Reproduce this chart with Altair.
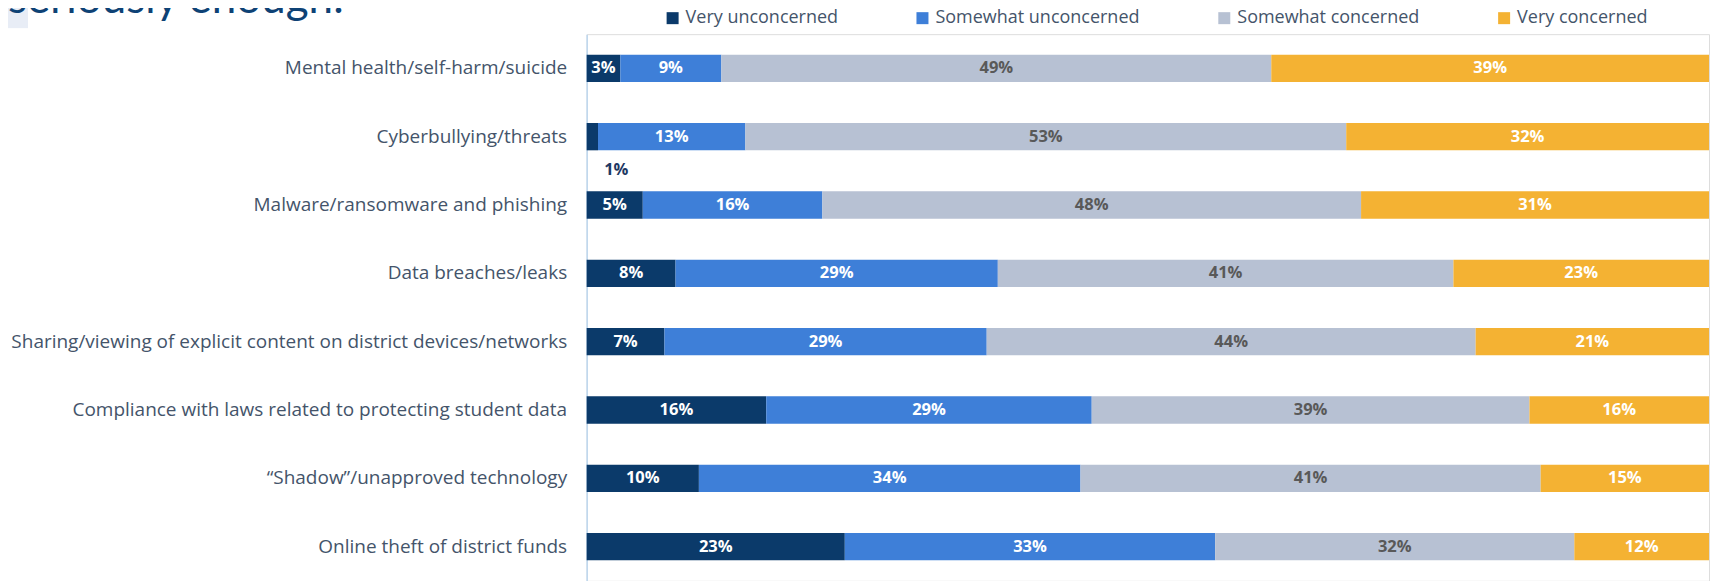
import altair as alt
import pandas as pd

categories = [
    "Mental health/self-harm/suicide",
    "Cyberbullying/threats",
    "Malware/ransomware and phishing",
    "Data breaches/leaks",
    "Sharing/viewing of explicit content on district devices/networks",
    "Compliance with laws related to protecting student data",
    "\u201cShadow\u201d/unapproved technology",
    "Online theft of district funds",
]
responses = ["Very unconcerned", "Somewhat unconcerned", "Somewhat concerned", "Very concerned"]
very_unconcerned = [3, 1, 5, 8, 7, 16, 10, 23]
somewhat_unconcerned = [9, 13, 16, 29, 29, 29, 34, 33]
somewhat_concerned = [49, 53, 48, 41, 44, 39, 41, 32]
very_concerned = [39, 32, 31, 23, 21, 16, 15, 12]
colors = ["#0B3A6A", "#3E7FD8", "#B7C1D3", "#F4B233"]
title_text = "seriously enough:"

series = [very_unconcerned, somewhat_unconcerned, somewhat_concerned, very_concerned]
rows = []
for ci, cat in enumerate(categories):
    for ri, resp in enumerate(responses):
        v = series[ri][ci]
        rows.append({"item": cat, "response": resp, "order": ri, "value": v,
                     "label": f"{v}%", "small": v < 2})
df = pd.DataFrame(rows)

FONT = "Open Sans"

base = alt.Chart(df).transform_stack(
    stack="value", groupby=["item"], sort=[alt.SortField("order")],
    as_=["x0", "x1"], offset="normalize"
).transform_calculate(mid="(datum.x0 + datum.x1) / 2")

yenc = alt.Y("item:N", sort=categories,
             scale=alt.Scale(paddingInner=0.6, paddingOuter=0.3),
             axis=alt.Axis(title=None, ticks=False, labelFontSize=19, labelFont=FONT,
                           labelColor="#44546A", labelPadding=20, domainColor="#BDD7EE",
                           domainWidth=1.5, labelLimit=800))
xscale = alt.Scale(domain=[0, 1])

bars = base.mark_bar().encode(
    y=yenc,
    x=alt.X("x0:Q", scale=xscale, axis=None),
    x2="x1:Q",
    color=alt.Color("response:N", sort=responses,
                    scale=alt.Scale(domain=responses, range=colors),
                    legend=alt.Legend(title=None, orient="none", legendX=77, legendY=-25,
                                      direction="horizontal", symbolType="square",
                                      symbolSize=144, symbolStrokeWidth=0,
                                      labelFontSize=18, labelFont=FONT, labelColor="#44546A",
                                      labelLimit=400, columnPadding=75, symbolOffset=0,
                                      labelOffset=4, padding=0)),
)

labels = base.transform_filter("!datum.small").mark_text(
    font=FONT, fontWeight="bold", fontSize=16.5
).encode(
    y=alt.Y("item:N", sort=categories),
    x=alt.X("mid:Q", scale=xscale),
    text="label:N",
    color=alt.condition(alt.datum.response == "Somewhat concerned",
                        alt.value("#595959"), alt.value("white")),
)

small_labels = base.transform_filter("datum.small").mark_text(
    font=FONT, fontWeight="bold", fontSize=16.5, dx=24, dy=33, color="#1F3864"
).encode(
    y=alt.Y("item:N", sort=categories),
    x=alt.X("mid:Q", scale=xscale),
    text="label:N",
)

title_df = pd.DataFrame({"t": [title_text]})
title = alt.Chart(title_df).mark_text(
    font="Lato", fontSize=44, color="#0E4275", align="left", baseline="alphabetic"
).encode(x=alt.value(-579), y=alt.value(-21), text="t:N")

box = alt.Chart(title_df).mark_rect(color="#E8EDF6").encode(
    x=alt.value(-587), x2=alt.value(-559), y=alt.value(-34), y2=alt.value(-6))

chart = alt.layer(box, bars, labels, small_labels, title).properties(
    width=1123, height=547,
    autosize=alt.AutoSizeParams(type="none"),
    padding={"left": 579, "top": 26, "right": 2, "bottom": 0},
).configure_view(stroke=None).configure(background="white")

chart.save("out.html", embed_options={"renderer": "svg", "actions": False})
